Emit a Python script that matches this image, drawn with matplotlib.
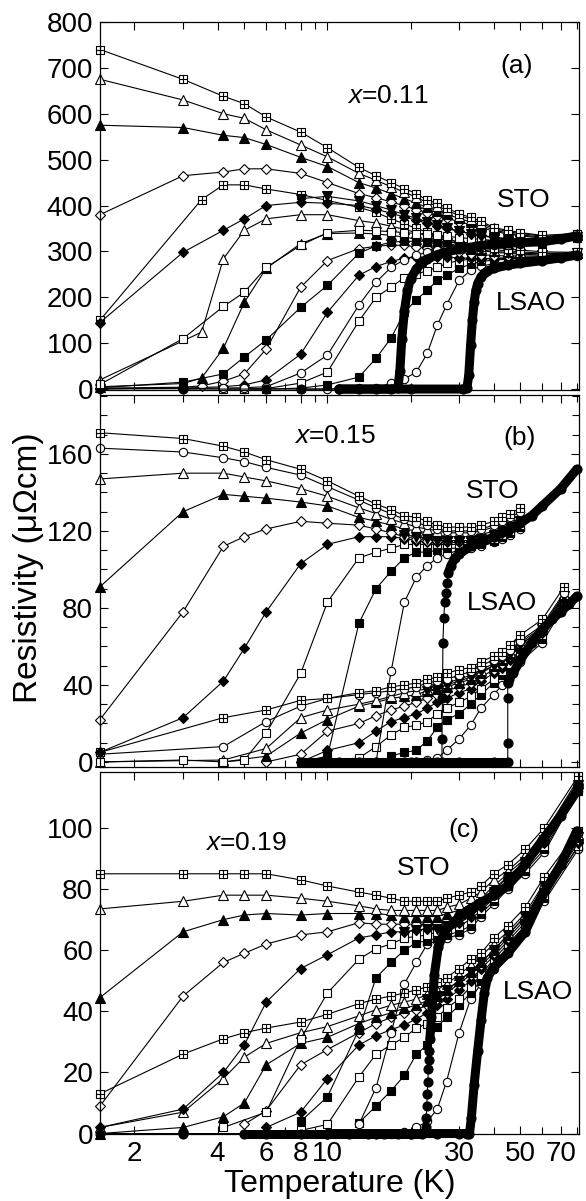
import matplotlib
matplotlib.use("Agg")
import matplotlib.pyplot as plt
from matplotlib.path import Path
from matplotlib.ticker import FixedLocator, FixedFormatter, NullFormatter, MultipleLocator

plt.rcParams['font.family'] = ['Liberation Sans', 'DejaVu Sans']
plt.rcParams['mathtext.fontset'] = 'custom'
plt.rcParams['mathtext.it'] = 'Liberation Sans:italic'
plt.rcParams['mathtext.rm'] = 'Liberation Sans'

N = None

# ---------------- panel (a): x = 0.11 ----------------
Ta = [1.5, 3, 3.5, 4.2, 5, 6, 8, 10, 13, 15, 17, 19, 21, 23, 25, 27, 30, 33, 36, 40, 45, 50, 60, 80]
# STO substrate
a_sto_hsq = [740, 675, N, 638, 622, 593, 560, 526, 483, 465, 450, 437, 426, 411, 405, 395, 382, 374, 366, 352, 346, 341, 335, 339]
a_sto_otri = [675, 630, N, 600, 590, 565, 532, 506, 470, 455, 441, 429, 418, 406, 399, 390, 378, 370, 362, 350, 343, 339, 333, 337]
a_sto_ftri = [575, 570, N, 553, 548, 533, 505, 485, 450, 438, 426, 415, 405, 396, 389, 381, 372, 364, 357, 347, 340, 336, 331, 336]
a_sto_odia = [380, 465, N, 473, 480, 480, 470, 450, 426, 417, 408, 399, 391, 384, 378, 372, 365, 358, 352, 344, 338, 334, 329, 335]
a_sto_fdia = [145, 298, N, 346, 371, 400, 407, 405, 400, 392, 383, 375, 368, 361, 355, 350, 344, 339, 335, 331, 328, 326, 324, 333]
a_sto_osq = [10, 110, N, 180, 211, 265, 313, 341, 346, 345, 343, 341, 339, 337, 335, 333, 330, 328, 326, 324, 322, 321, 320, 331]
a_sto_fsq = [3, 15, N, 33, 70, 107, 178, 226, 296, 312, 320, 322, 322, 322, 322, 321, 320, 319, 318, 318, 318, 318, 319, 330]
a_sto_ocir = [0, 1, N, 2, 3, 5, 35, 74, 183, 233, 265, 282, 292, 298, 303, 306, 308, 310, 312, 314, 315, 316, 318, 329]
a_sto_tdown = [N, N, N, N, N, N, 415, 420, 410, 400, 390, 380, 372, 364, 357, 351, 344, 338, 334, 330, 327, 325, 323, 332]
# LSAO substrate
a_lsao_hsq = [150, N, 413, 445, 445, 436, 424, 411, 396, 385, 371, 360, 350, 342, 335, 328, 320, 314, 310, 308, 306, 303, 299, 298]
a_lsao_otri = [20, N, 124, 284, 346, 371, 380, 380, 367, 362, 355, 348, 341, 335, 329, 323, 316, 311, 307, 304, 301, 299, 296, 297]
a_lsao_ftri = [5, 12, 24, 89, 189, 263, 317, 339, 340, 338, 335, 331, 327, 323, 319, 314, 310, 306, 303, 300, 298, 296, 295, 296]
a_lsao_odia = [2, 4, 7, 17, 33, 87, 222, 280, 306, 311, 314, 313, 310, 307, 304, 301, 298, 295, 293, 291, 290, 290, 290, 295]
a_lsao_fdia = [1, 2, N, 5, 9, 20, 76, 167, 248, 267, 278, 285, 287, 288, 288, 287, 286, 285, 284, 284, 285, 286, 288, 294]
a_lsao_osq = [N, N, N, 0, 0, 1, 13, 37, 148, 200, 222, 243, 250, 258, 265, 274, 280, 283, 284, 285, 286, 287, 288, 293]
a_lsao_fsq = [N, N, N, N, 0, 0, 2, 9, 26, 67, 111, 167, 195, 215, 237, 248, 263, 272, 278, 281, 283, 285, 287, 292]
a_lsao_ocir = [N, N, N, N, N, N, 0, 0, 2, 2, 13, 22, 37, 78, 139, 183, 237, 259, 268, 273, 277, 279, 283, 291]
a_lsao_tdown = [N] * 13 + [330, 325, 318, 312, 306, 302, 298, 296, 294, 292, 296]
# zero field
a_sto_zero_T = [3, 6, 8, 11, 13, 15, 17, 18, 18.3, 18.6, 19, 19.5, 20, 21, 22, 23, 25, 27, 30, 35, 40, 45, 50, 60, 70, 80]
a_sto_zero_rho = [0, 0, 0, 0, 0, 0, 0, 2, 40, 110, 170, 215, 240, 262, 275, 283, 293, 299, 305, 312, 316, 318, 319, 321, 327, 334]
a_lsao_zero_T = [11, 20, 31, 32, 32.5, 33, 33.5, 34, 34.5, 35, 36, 37, 38, 40, 45, 50, 60, 70, 80]
a_lsao_zero_rho = [0, 0, 0, 2, 30, 95, 150, 190, 215, 230, 245, 252, 257, 263, 270, 274, 280, 286, 292]

# ---------------- panel (b): x = 0.15 ----------------
Tb = [1.5, 3, 4.2, 5, 6, 8, 10, 13, 15, 17, 19, 21, 23, 25, 27, 30, 33, 36, 40, 43, 46, 50, 60, 72]
b_sto_hsq = [171, 168, 164, 161, 157, 152, 146, 138, 134, 131, 128, 127, 125, 123, 122, 122, 122, 123, 125, 127, 129, 132, N, N]
b_sto_ocir = [163, 161, 158, 156, 153, 149, 143, 136, 132, 129, 126, 124, 123, 121, 120, 120, 120, 121, 123, 125, 127, 130, N, N]
b_sto_otri = [147, 150, 150, 148, 146, 142, 138, 132, 129, 126, 124, 122, 121, 120, 119, 119, 119, 120, 122, 124, 126, 128, N, N]
b_sto_ftri = [91, 130, 139, 138, 137, 135, 133, 127, 125, 123, 121, 120, 119, 118, 117, 117, 117, 118, 120, 122, 124, 127, N, N]
b_sto_odia = [22, 78, 112, 117, 121, 125, 124, 123, 121, 119, 117, 116, 115, 115, 115, 115, 115, 116, 118, 120, 122, 125, N, N]
b_sto_fdia = [5, 23, 42, 59, 78, 103, 113, 117, 117, 117, 116, 115, 114, 114, 114, 114, 114, 115, 117, 119, 121, 124, N, N]
b_sto_osq = [0, 1, 0, 1, 15, 46, 83, 106, 109, 111, 113, 113, 113, 113, 113, 113, 113, 114, 116, 118, 120, 123, N, N]
b_sto_fsq = [N, N, N, N, N, 0, 3, 72, 90, 99, 106, 109, 109, 110, 111, 111, 112, 113, 115, 117, 119, 122, N, N]
b_sto_ocir2 = [N, N, N, N, N, N, 0, 0, 0, 47, 83, 96, 102, 106, 108, 110, 111, 112, 114, 116, 118, 121, N, N]
b_sto_tdown = [N] * 10 + [118, 117, 116, 115, 115, 115, 115, 116, 118, 120, 122, 125, N, N]
b_lsao_hsq = [5, N, 23, N, 27, 32, 33, 36, 37, 39, 40, 41, 43, 44, 46, 48, 49, 52, 55, 57, 61, 66, 74, 91]
b_lsao_ocir = [4, N, 8, N, 21, 29, 33, 35, 36, 37, 38, 39, 41, 42, 43, 45, 47, 50, 53, 55, 58, 63, 71, 88]
b_lsao_otri = [0, N, 1, N, 7, 23, 27, 30, 32, 34, 36, 37, 38, 40, 41, 43, 45, 48, 51, 54, 57, 62, 70, 87]
b_lsao_ftri = [N, N, 0, N, 3, 15, 22, 29, 31, 33, 34, 35, 37, 38, 39, 41, 43, 46, 50, 53, 56, 61, 69, 86]
b_lsao_odia = [N, N, N, N, 0, 4, 16, 20, 24, 27, 29, 31, 33, 35, 37, 39, 41, 44, 48, 51, 55, 60, 68, 85]
b_lsao_fdia = [N, N, N, N, N, 0, 6, 10, 16, 21, 23, 25, 28, 31, 33, 36, 38, 42, 46, 49, 53, 58, 67, 84]
b_lsao_osq = [N, N, N, N, N, N, 1, 2, 8, 14, 18, 19, 21, 25, 28, 31, 34, 38, 43, 47, 51, 57, 66, 83]
b_lsao_fsq = [N, N, N, N, N, N, N, N, N, 3, 5, 6, 11, 18, 22, 25, 30, 35, 41, 45, 49, 55, 64, 82]
b_lsao_ocir2 = [N, N, N, N, N, N, N, N, N, N, 0, 0, 1, 2, 6, 12, 19, 28, 35, 40, 45, 52, 62, 81]
b_lsao_tdown = [N] * 12 + [37, 38, 40, 42, 44, 47, 50, 53, 56, 61, 69, 86]
b_sto_zero_T = [8, 10, 13, 15, 17, 19, 21, 23, 25, 26, 26, 26.1, 26.2, 26.4, 26.6, 26.8, 27, 27.4, 28, 29,
                30, 33, 36, 40, 45, 50, 55, 60, 70, 80]
b_sto_zero_rho = [0, 0, 0, 0, 0, 0, 0, 0, 0, 0, 12, 33, 62, 75, 83, 88, 93, 98, 102, 106,
                  108, 112, 114, 117, 120, 124, 128, 133, 142, 152]
b_lsao_zero_T = [11, 20, 30, 40, 45, 45, 45, 45, 45.5, 47, 50, 55, 60, 65, 70, 75, 80]
b_lsao_zero_rho = [0, 0, 0, 0, 0, 10, 33, 41, 43, 46, 53, 62, 69, 74, 78, 82, 86]

# ---------------- panel (c): x = 0.19 ----------------
Tc = [1.5, 3, 4.2, 5, 6, 8, 10, 13, 15, 17, 19, 21, 23, 25, 27, 30, 33, 36, 40, 45, 52, 61, 81]
c_sto_hsq = [85, 85, 85, 85, 85, 83, 81, 79, 78, 77, 76, 76, 76, 76, 77, 78, 79, 81, 85, 88, 93, 100, 117]
c_sto_otri = [73.5, 76, 78, 78, 78, 77, 76, 74.5, 73.5, 73, 73, 73, 73, 73, 74, 75, 77, 79, 83, 86, 91, 98, 116]
c_sto_ftri = [44.5, 66, 70, 71.5, 72, 71.5, 72, 72, 72, 71.5, 71, 71, 71, 71, 72, 73, 75, 77, 81, 85, 90, 97, 115]
c_sto_odia = [9, 45, 56, 59, 62, 65, 66, 69, 68.5, 68.5, 68.5, 68.5, 68.5, 69, 70, 71, 73, 76, 80, 84, 89, 96, 114]
c_sto_fdia = [2, 8, 20, 29, 43, 54, 58.5, 64, 65, 66, 66, 66.5, 67, 67.5, 68, 69, 71, 74, 78, 83, 88, 95, 113]
c_sto_osq = [N, N, 2, N, 7, 31, 46, 57, 60.5, 62, 64, 64.5, 65, 66, 67, 68, 70, 73, 77, 82, 87, 94, 113]
c_sto_fsq = [N, N, N, N, N, 4, 12, 34, 51, 56, 60, 62.5, 63, 64, 65, 66, 68, 72, 76, 81, 86, 93, 112]
c_sto_ocir = [N, N, N, N, N, N, N, 3, 15, 33, 49, 56, 62, 63, 64, 65, 67, 71, 75, 80, 85, 92, 112]
c_sto_tdown = [N] * 10 + [66, 66.5, 67, 67, 68, 70, 72, 75, 79, 84, 89, 96, 114]
c_lsao_hsq = [13, 26, 31, 33, 34.5, 36.5, 39, 42.5, 44, 45, 46, 47, 48, 49.5, 51, 54, 57, 59, 64, 68, 74, 84, 99]
c_lsao_otri = [2, 7, 18, 25, 29.5, 33, 35, 38.5, 40.5, 42, 43, 44, 45.5, 47, 49, 52, 55, 58, 62, 66, 72, 82, 98]
c_lsao_ftri = [0, 2, 5.5, 10, 22.5, 29.5, 31.5, 36, 38, 39.5, 41, 42, 43.5, 45, 47, 50, 53, 56, 60, 65, 71, 81, 97]
c_lsao_odia = [N, N, N, 3, 7.5, 22.5, 27.5, 33, 36, 38, 39.5, 40.5, 42, 44, 46, 49, 52, 55, 59, 64, 70, 80, 96]
c_lsao_fdia = [N, N, N, N, 2, 7, 18, 29, 32, 34, 35.5, 37.5, 39.5, 42, 44, 47, 50, 54, 58, 63, 69, 79, 95]
c_lsao_osq = [N, N, N, N, N, 1, 3, 18.5, 26, 29, 31.5, 34.5, 36, 38, 41, 44, 48, 52, 57, 62, 68, 78, 94]
c_lsao_fsq = [N, N, N, N, N, N, N, 3.5, 9, 14, 19, 26, 29, 35, 38, 42, 46, 50, 55, 61, 67, 77, 94]
c_lsao_ocir = [N, N, N, N, N, N, N, N, 0, 0, 0.5, 2, 4, 8, 17, 33, 44, 49, 54, 60, 66, 76, 93]
c_lsao_tdown = [N] * 12 + [44, 45, 47, 50, 53, 56, 60, 65, 71, 81, 97]
c_sto_zero_T = [1.5, 3, 5, 6, 8, 10, 12, 14, 16, 18, 20, 22, 22.7, 22.8, 22.9, 23, 23.1, 23.2, 23.3, 23.4, 23.5,
                23.8, 24.4, 25.2, 26.5, 28.5, 31, 35, 40, 45, 50, 60, 70, 80]
c_sto_zero_rho = [0] * 12 + [2, 5, 9, 13, 17, 21, 24, 27, 31,
                             38, 52, 61, 66, 69, 72, 75, 78, 81, 86, 96, 104, 112]
c_lsao_zero_T = [10, 15, 20, 25, 30, 32, 32.7, 33.2, 34, 35, 36, 37, 38, 39.7, 45, 52, 60, 70, 80]
c_lsao_zero_rho = [0, 0, 0, 0, 0, 0, 0, 5, 16, 27, 37, 46, 51, 54, 59, 66, 78, 88, 99]

# square with a cross inside
hsq_path = Path([(-1, -1), (1, -1), (1, 1), (-1, 1), (-1, -1), (0, -1), (0, 1), (-1, 0), (1, 0)],
                [Path.MOVETO, Path.LINETO, Path.LINETO, Path.LINETO, Path.CLOSEPOLY,
                 Path.MOVETO, Path.LINETO, Path.MOVETO, Path.LINETO])

markers = {
    'hsq': (hsq_path, 5.6, 'white'),
    'otri': ('^', 7.0, 'white'),
    'ftri': ('^', 7.0, 'black'),
    'odia': ('D', 5.0, 'white'),
    'fdia': ('D', 5.0, 'black'),
    'osq': ('s', 5.6, 'white'),
    'fsq': ('s', 5.6, 'black'),
    'ocir': ('o', 6.0, 'white'),
    'tdown': ('v', 6.5, 'black'),
}


def curve(ax, grid, vals, kind):
    t = [g for g, v in zip(grid, vals) if v is not None]
    r = [v for v in vals if v is not None]
    m, ms, fc = markers[kind]
    ax.plot(t, r, color='black', lw=0.8, marker=m, ms=ms, mfc=fc, mec='black', mew=0.8, clip_on=False)


def zero_curve(ax, T, rho, dense):
    ax.plot(T, rho, color='black', lw=0.8, marker='o', ms=6.3, mfc='black', mec='black', clip_on=False)
    for i0, i1 in dense:
        ax.plot(T[i0:i1], rho[i0:i1], color='black', lw=6.5, solid_capstyle='round',
                solid_joinstyle='round', clip_on=False)


fig = plt.figure(figsize=(5.86, 12.01), dpi=100)
ax_a = fig.add_axes([0.1706, 0.6753, 0.8174, 0.3064])
ax_b = fig.add_axes([0.1706, 0.3614, 0.8174, 0.3097])
ax_c = fig.add_axes([0.1706, 0.0554, 0.8174, 0.3018])

panels = [
    (ax_a, Ta, [a_lsao_ocir, a_lsao_fsq, a_lsao_osq, a_lsao_fdia, a_lsao_odia, a_lsao_ftri, a_lsao_otri, a_lsao_tdown, a_lsao_hsq,
                a_sto_ocir, a_sto_fsq, a_sto_osq, a_sto_fdia, a_sto_odia, a_sto_ftri, a_sto_otri, a_sto_tdown, a_sto_hsq]),
    (ax_b, Tb, [b_lsao_ocir2, b_lsao_fsq, b_lsao_osq, b_lsao_fdia, b_lsao_odia, b_lsao_ftri, b_lsao_otri, b_lsao_tdown, b_lsao_ocir, b_lsao_hsq,
                b_sto_ocir2, b_sto_fsq, b_sto_osq, b_sto_fdia, b_sto_odia, b_sto_ftri, b_sto_otri, b_sto_tdown, b_sto_ocir, b_sto_hsq]),
    (ax_c, Tc, [c_lsao_ocir, c_lsao_fsq, c_lsao_osq, c_lsao_fdia, c_lsao_odia, c_lsao_ftri, c_lsao_otri, c_lsao_tdown, c_lsao_hsq,
                c_sto_ocir, c_sto_fsq, c_sto_osq, c_sto_fdia, c_sto_odia, c_sto_ftri, c_sto_otri, c_sto_tdown, c_sto_hsq]),
]
kinds_a = ['ocir', 'fsq', 'osq', 'fdia', 'odia', 'ftri', 'otri', 'tdown', 'hsq']
kinds_b = ['ocir', 'fsq', 'osq', 'fdia', 'odia', 'ftri', 'otri', 'tdown', 'ocir', 'hsq']

for ax, grid, series in panels:
    kinds = kinds_b if ax is ax_b else kinds_a
    for vals, kind in zip(series, kinds * 2):
        curve(ax, grid, vals, kind)

zero_curve(ax_a, a_sto_zero_T, a_sto_zero_rho, [(3, len(a_sto_zero_T))])
zero_curve(ax_a, a_lsao_zero_T, a_lsao_zero_rho, [(0, len(a_lsao_zero_T))])
zero_curve(ax_b, b_sto_zero_T, b_sto_zero_rho, [(0, 10), (17, len(b_sto_zero_T))])
zero_curve(ax_b, b_lsao_zero_T, b_lsao_zero_rho, [(0, 5), (7, len(b_lsao_zero_T))])
zero_curve(ax_c, c_sto_zero_T, c_sto_zero_rho, [(2, 12), (20, len(c_sto_zero_T))])
zero_curve(ax_c, c_lsao_zero_T, c_lsao_zero_rho, [(0, len(c_lsao_zero_T))])

xlabels = ['2', '4', '6', '8', '10', '30', '50', '70']
for ax in (ax_a, ax_b, ax_c):
    ax.set_xscale('log')
    ax.set_xlim(1.5, 81.5)
    ax.xaxis.set_major_locator(FixedLocator([2, 4, 6, 8, 10, 30, 50, 70]))
    ax.xaxis.set_minor_locator(FixedLocator([3, 5, 7, 9, 20, 40, 60, 80]))
    ax.xaxis.set_minor_formatter(NullFormatter())
    ax.tick_params(which='both', direction='in', top=True, right=True, width=0.8, labelsize=20)
    ax.tick_params(which='major', length=6)
    ax.tick_params(which='minor', length=5)
    ax.tick_params(axis='y', pad=5)
    ax.tick_params(axis='x', pad=5)
    for s in ax.spines.values():
        s.set_linewidth(0.9)

ax_a.xaxis.set_major_formatter(NullFormatter())
ax_b.xaxis.set_major_formatter(NullFormatter())
ax_c.xaxis.set_major_formatter(FixedFormatter(xlabels))

ax_a.set_ylim(-2, 800)
ax_a.yaxis.set_major_locator(MultipleLocator(100))
ax_b.set_ylim(-2.6, 190.6)
ax_b.yaxis.set_major_locator(MultipleLocator(40))
ax_b.yaxis.set_minor_locator(MultipleLocator(10))
ax_c.set_ylim(-0.3, 118.3)
ax_c.yaxis.set_major_locator(MultipleLocator(20))

fs = 19
ax_a.text(0.87, 0.88, '(a)', transform=ax_a.transAxes, fontsize=fs, ha='center', va='center')
ax_a.text(0.60, 0.80, '$x$=0.11', transform=ax_a.transAxes, fontsize=fs, ha='center', va='center')
ax_a.text(0.885, 0.515, 'STO', transform=ax_a.transAxes, fontsize=fs, ha='center', va='center')
ax_a.text(0.90, 0.237, 'LSAO', transform=ax_a.transAxes, fontsize=fs, ha='center', va='center')

ax_b.text(0.875, 0.885, '(b)', transform=ax_b.transAxes, fontsize=fs, ha='center', va='center')
ax_b.text(0.49, 0.89, '$x$=0.15', transform=ax_b.transAxes, fontsize=fs, ha='center', va='center')
ax_b.text(0.82, 0.743, 'STO', transform=ax_b.transAxes, fontsize=fs, ha='center', va='center')
ax_b.text(0.84, 0.44, 'LSAO', transform=ax_b.transAxes, fontsize=fs, ha='center', va='center')

ax_c.text(0.76, 0.84, '(c)', transform=ax_c.transAxes, fontsize=fs, ha='center', va='center')
ax_c.text(0.305, 0.805, '$x$=0.19', transform=ax_c.transAxes, fontsize=fs, ha='center', va='center')
ax_c.text(0.675, 0.735, 'STO', transform=ax_c.transAxes, fontsize=fs, ha='center', va='center')
ax_c.text(0.915, 0.393, 'LSAO', transform=ax_c.transAxes, fontsize=fs, ha='center', va='center')

fig.text(0.048, 1 - 568 / 1201, 'Resistivity (\u03bc\u03a9cm)', rotation=90, fontsize=24, ha='center', va='center')
fig.text(340 / 586, 1 - 1199 / 1201, 'Temperature (K)', fontsize=23, ha='center', va='bottom')

fig.savefig('out.png', dpi=100)
